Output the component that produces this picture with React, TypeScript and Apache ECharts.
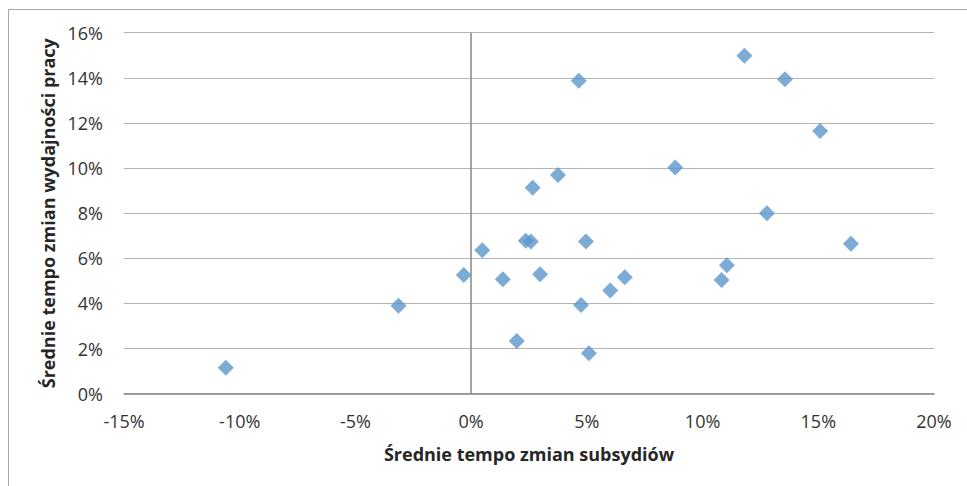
import React, { useEffect, useRef } from "react";
import * as echarts from "echarts";

// Average rate of change of subsidies (%), x
const subsidyChange: number[] = [
  -10.6, -3.14, -0.32, 0.48, 1.37, 1.97, 2.36, 2.58, 2.98, 2.66, 3.75, 4.65,
  4.75, 4.96, 5.09, 6.01, 6.64, 8.82, 10.82, 11.05, 11.81, 12.78, 13.56, 15.08,
  16.41,
];
// Average rate of change of labour productivity (%), y
const productivityChange: number[] = [
  1.15, 3.9, 5.26, 6.36, 5.07, 2.34, 6.78, 6.75, 5.29, 9.13, 9.69, 13.87, 3.93,
  6.75, 1.79, 4.57, 5.16, 10.02, 5.04, 5.69, 14.98, 8.0, 13.94, 11.64, 6.65,
];

const xTicks = { min: -15, max: 20, interval: 5 };
const yTicks = { min: 0, max: 16, interval: 2 };

const xTitle = "Średnie tempo zmian subsydiów";
const yTitle = "Średnie tempo zmian wydajności pracy";

export default function App() {
  const ref = useRef<HTMLDivElement>(null);
  useEffect(() => {
    if (!ref.current) return;
    const chart = echarts.init(ref.current, undefined, { renderer: "svg" });
    const points = subsidyChange.map((x, i) => [x, productivityChange[i]]);
    const font = "'Open Sans', 'Noto Sans', sans-serif";
    chart.setOption({
      animation: false,
      backgroundColor: "#ffffff",
      grid: { left: 124, right: 33, top: 32.7, bottom: 92.3, containLabel: false },
      graphic: [
        {
          type: "line",
          shape: { x1: 8.5, y1: 9.5, x2: 967, y2: 9.5 },
          style: { stroke: "#a6a6a6", lineWidth: 1 },
          silent: true,
        },
        {
          type: "line",
          shape: { x1: 8.5, y1: 9.5, x2: 8.5, y2: 486 },
          style: { stroke: "#a6a6a6", lineWidth: 1 },
          silent: true,
        },
      ],
      xAxis: {
        type: "value",
        min: xTicks.min,
        max: xTicks.max,
        interval: xTicks.interval,
        name: xTitle,
        nameLocation: "middle",
        nameGap: 51,
        nameTextStyle: { fontFamily: font, fontSize: 18, fontWeight: "bold", color: "#262626" },
        axisLine: { show: true, onZero: false, lineStyle: { color: "#868686", width: 1.5 } },
        axisTick: { show: false },
        splitLine: { show: false },
        axisLabel: {
          formatter: "{value}%",
          margin: 18,
          fontFamily: font,
          fontSize: 18,
          color: "#333333",
        },
      },
      yAxis: {
        type: "value",
        min: yTicks.min,
        max: yTicks.max,
        interval: yTicks.interval,
        name: yTitle,
        nameLocation: "middle",
        nameGap: 65,
        nameTextStyle: { fontFamily: font, fontSize: 18, fontWeight: "bold", color: "#262626" },
        axisLine: { show: false },
        axisTick: { show: false },
        splitLine: { show: true, lineStyle: { color: "#b3b3b3", width: 1 } },
        axisLabel: {
          formatter: "{value}%",
          margin: 21,
          fontFamily: font,
          fontSize: 18,
          color: "#333333",
        },
      },
      series: [
        {
          type: "scatter",
          data: points,
          symbol: "diamond",
          symbolSize: 16,
          itemStyle: { color: "#5b96cc" },
          markLine: {
            silent: true,
            symbol: "none",
            label: { show: false },
            lineStyle: { color: "#868686", width: 1.5, type: "solid" },
            data: [{ xAxis: 0 }],
          },
        },
      ],
    });
    return () => chart.dispose();
  }, []);
  return (
    <div
      ref={ref}
      style={{ position: "fixed", left: 0, top: 0, width: 967, height: 486 }}
    />
  );
}
